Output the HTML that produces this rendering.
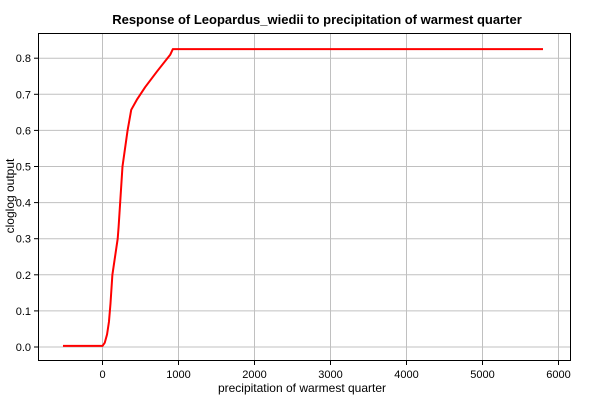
<!DOCTYPE html>
<html><head><meta charset="utf-8"><style>
body{margin:0;background:#fff;font-family:"Liberation Sans",sans-serif}
</style></head><body>
<svg width="600" height="400" xmlns="http://www.w3.org/2000/svg">
<script>
const xs=[-520,0,30,60,85,105,130,200,212,263,330,378,452,562,716,892,925,5796];
const ys=[0.003,0.003,0.012,0.035,0.07,0.12,0.2,0.30,0.333,0.5,0.60,0.657,0.685,0.72,0.763,0.81,0.825,0.825];
const xTicks=[0,1000,2000,3000,4000,5000,6000];
const yTicks=[0,0.1,0.2,0.3,0.4,0.5,0.6,0.7,0.8];
</script>
<text x="317" y="24" text-anchor="middle" font-size="13" font-weight="bold">Response of Leopardus_wiedii to precipitation of warmest quarter</text>
<g id="grid"></g>
<rect x="38.5" y="33.5" width="532" height="327" fill="none" stroke="#000"/>
<g id="ticks" font-size="11"></g>
<polyline id="curve" fill="none" stroke="#f00" stroke-width="2" stroke-linejoin="round"/>
<text x="302" y="392" text-anchor="middle" font-size="12">precipitation of warmest quarter</text>
<text transform="translate(14,196) rotate(-90)" text-anchor="middle" font-size="12">cloglog output</text>
<script>
const X=v=>102.5+v*0.076, Y=v=>347-v*361;
const ns="http://www.w3.org/2000/svg";
const g=document.getElementById('grid'), t=document.getElementById('ticks');
xTicks.forEach(v=>{
 const l=document.createElementNS(ns,'line');
 l.setAttribute('x1',X(v));l.setAttribute('x2',X(v));l.setAttribute('y1',34);l.setAttribute('y2',360);
 l.setAttribute('stroke','#c0c0c0');
 
 
 g.appendChild(l);
 const k=document.createElementNS(ns,'line');
 k.setAttribute('x1',X(v));k.setAttribute('x2',X(v));k.setAttribute('y1',361);k.setAttribute('y2',365);k.setAttribute('stroke','#000');
 
 
 t.appendChild(k);
 const s=document.createElementNS(ns,'text');
 s.setAttribute('x',X(v));s.setAttribute('y',378);s.setAttribute('text-anchor','middle');s.textContent=v;
 
 
 t.appendChild(s);
});
yTicks.forEach(v=>{
 const l=document.createElementNS(ns,'line');
 l.setAttribute('x1',39);l.setAttribute('x2',570);l.setAttribute('y1',Y(v));l.setAttribute('y2',Y(v));
 l.setAttribute('stroke','#c0c0c0');
 
 
 g.appendChild(l);
 const k=document.createElementNS(ns,'line');
 k.setAttribute('x1',34);k.setAttribute('x2',38);k.setAttribute('y1',Y(v));k.setAttribute('y2',Y(v));k.setAttribute('stroke','#000');
 
 
 t.appendChild(k);
 const s=document.createElementNS(ns,'text');
 s.setAttribute('x',31);s.setAttribute('y',Y(v)+4);s.setAttribute('text-anchor','end');s.textContent=v.toFixed(1);
 
 
 t.appendChild(s);
});
document.getElementById('curve').setAttribute('points',xs.map((v,i)=>X(v)+','+Y(ys[i])).join(' '));
</script>
</svg>
</body></html>
